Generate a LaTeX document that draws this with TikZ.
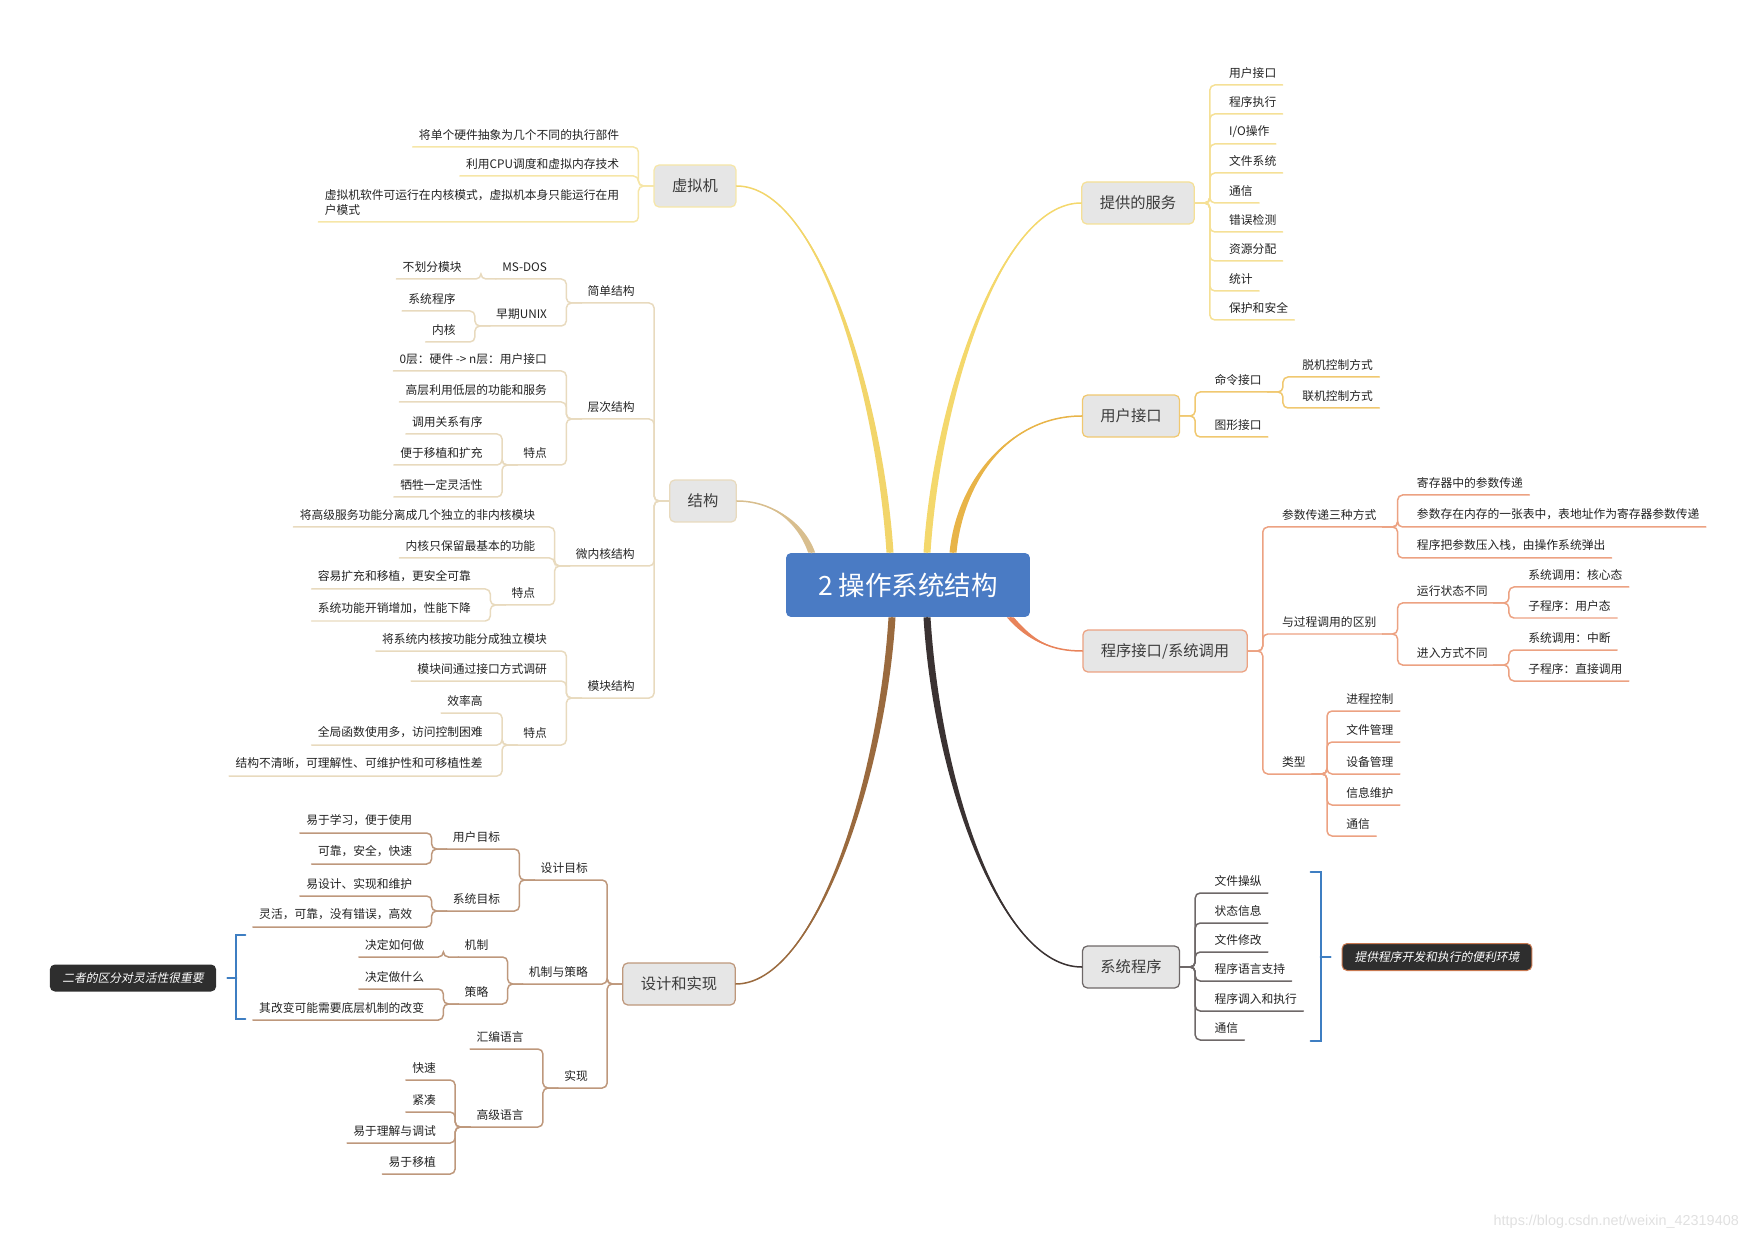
\documentclass[tikz,border=0pt]{standalone}
\usepackage{fontspec}
\setmainfont{Noto Sans CJK SC}
\newfontfamily\slantcjk[FakeSlant=0.2]{Noto Sans CJK SC}
\newfontfamily\urlfont{Liberation Sans}
\usepackage{tikz}
\usetikzlibrary{positioning,calc}

\definecolor{rootblue}{RGB}{74,123,196}
\definecolor{topicfill}{RGB}{230,230,230}
\definecolor{topictext}{RGB}{60,60,60}
\definecolor{leaftext}{RGB}{34,34,34}
\definecolor{vmc}{RGB}{242,213,106}
\definecolor{vml}{RGB}{246,230,168}
\definecolor{stc}{RGB}{216,190,142}
\definecolor{stl}{RGB}{232,218,190}
\definecolor{dsc}{RGB}{154,106,62}
\definecolor{dsl}{RGB}{190,152,124}
\definecolor{svc}{RGB}{244,216,108}
\definecolor{svl}{RGB}{245,224,150}
\definecolor{uic}{RGB}{232,180,72}
\definecolor{uil}{RGB}{240,200,112}
\definecolor{scc}{RGB}{232,131,90}
\definecolor{scl}{RGB}{236,162,130}
\definecolor{spc}{RGB}{58,50,50}
\definecolor{spl}{RGB}{110,104,104}
\definecolor{brk}{RGB}{62,126,194}
\definecolor{notefill}{RGB}{46,46,46}
\definecolor{notebd}{RGB}{200,120,80}

\newcommand{\trunk}[5]{%
  \fill[#1] ($#2+(-3.5,0)$) .. controls ($#3+(-3.5,0)$) and #4 .. #5
    .. controls #4 and ($#3+(3.5,0)$) .. ($#2+(3.5,0)$) -- cycle;
  \draw[#1, line width=0.03cm] #2 .. controls #3 and #4 .. #5;}

\begin{document}
\begin{tikzpicture}[x=0.02cm, y=-0.02cm, line cap=round,
  lkid/.style={anchor=south east, xshift=-0.56cm},
  rkid/.style={anchor=south west, xshift=0.56cm},
  lt/.style={line width=0.03cm, rounded corners=0.1cm, to path={-- ++(-15,0) |- (\tikztotarget)}},
  rt/.style={line width=0.03cm, rounded corners=0.1cm, to path={-- ++(15,0) |- (\tikztotarget)}}]
\tikzstyle{root}=[rectangle, rounded corners=0.1cm, fill=rootblue, text=white, minimum width=4.88cm, minimum height=1.28cm, font=\fontsize{15.1}{18}\selectfont]
\tikzstyle{topic}=[rectangle, rounded corners=0.1cm, fill=topicfill, text=topictext, line width=0.025cm, minimum height=0.84cm, inner xsep=0.36cm, font=\fontsize{8.7}{10}\selectfont]
\tikzstyle{leaf}=[text=leaftext, inner xsep=0.12cm, inner ysep=0.13cm, font=\fontsize{6.7}{8.5}\selectfont]
\tikzstyle{note}=[rectangle, rounded corners=0.1cm, fill=notefill, text=white, minimum height=0.54cm, inner xsep=0.25cm, font=\slantcjk\fontsize{6.7}{8}\selectfont]
\useasboundingbox (0,0) rectangle (1754,1239);

\node[root] (root) at (908,585) {2 操作系统结构};

\node[topic, draw=vml] (vm) at (695,186) {虚拟机};
\node[topic, draw=stl] (st) at (703,501) {结构};
\node[topic, draw=dsl] (ds) at (679,984) {设计和实现};
\node[topic, draw=svl] (sv) at (1138,203) {提供的服务};
\node[topic, draw=uil] (ui) at (1131,416) {用户接口};
\node[topic, draw=scl] (sc) at (1165,651) {程序接口/系统调用};
\node[topic, draw=spl] (sp) at (1131,967) {系统程序};

\node[leaf, lkid] (vm1) at (vm.west |- 0,147) {将单个硬件抽象为几个不同的执行部件};
\node[leaf, lkid] (vm2) at (vm.west |- 0,176) {利用CPU调度和虚拟内存技术};
\node[leaf, lkid, align=left] (vm3) at (vm.west |- 0,222) {虚拟机软件可运行在内核模式，虚拟机本身只能运行在用\\户模式};

\node[leaf, lkid] (s1) at (st.west |- 0,303) {简单结构};
\node[leaf, lkid] (s11) at (s1.south west |- 0,279) {MS-DOS};
\node[leaf, lkid] (s111) at (s11.south west |- 0,279) {不划分模块};
\node[leaf, lkid] (s12) at (s1.south west |- 0,326) {早期UNIX};
\node[leaf, lkid] (s121) at (s12.south west |- 0,311) {系统程序};
\node[leaf, lkid] (s122) at (s12.south west |- 0,342) {内核};
\node[leaf, lkid] (s2) at (st.west |- 0,419) {层次结构};
\node[leaf, lkid] (s21) at (s2.south west |- 0,371) {0层：硬件 -> n层：用户接口};
\node[leaf, lkid] (s22) at (s2.south west |- 0,402) {高层利用低层的功能和服务};
\node[leaf, lkid] (s23) at (s2.south west |- 0,465) {特点};
\node[leaf, lkid] (s231) at (s23.south west |- 0,434) {调用关系有序};
\node[leaf, lkid] (s232) at (s23.south west |- 0,465) {便于移植和扩充};
\node[leaf, lkid] (s233) at (s23.south west |- 0,497) {牺牲一定灵活性};
\node[leaf, lkid] (s3) at (st.west |- 0,566) {微内核结构};
\node[leaf, lkid] (s31) at (s3.south west |- 0,527) {将高级服务功能分离成几个独立的非内核模块};
\node[leaf, lkid] (s32) at (s3.south west |- 0,558) {内核只保留最基本的功能};
\node[leaf, lkid] (s33) at (s3.south west |- 0,605) {特点};
\node[leaf, lkid] (s331) at (s33.south west |- 0,589) {容易扩充和移植，更安全可靠};
\node[leaf, lkid] (s332) at (s33.south west |- 0,621) {系统功能开销增加，性能下降};
\node[leaf, lkid] (s4) at (st.west |- 0,698) {模块结构};
\node[leaf, lkid] (s41) at (s4.south west |- 0,651) {将系统内核按功能分成独立模块};
\node[leaf, lkid] (s42) at (s4.south west |- 0,681) {模块间通过接口方式调研};
\node[leaf, lkid] (s43) at (s4.south west |- 0,745) {特点};
\node[leaf, lkid] (s431) at (s43.south west |- 0,713) {效率高};
\node[leaf, lkid] (s432) at (s43.south west |- 0,745) {全局函数使用多，访问控制困难};
\node[leaf, lkid] (s433) at (s43.south west |- 0,776) {结构不清晰，可理解性、可维护性和可移植性差};

\node[leaf, lkid] (d1) at (ds.west |- 0,880) {设计目标};
\node[leaf, lkid] (d11) at (d1.south west |- 0,849) {用户目标};
\node[leaf, lkid] (d111) at (d11.south west |- 0,833) {易于学习，便于使用};
\node[leaf, lkid] (d112) at (d11.south west |- 0,864) {可靠，安全，快速};
\node[leaf, lkid] (d12) at (d1.south west |- 0,911) {系统目标};
\node[leaf, lkid] (d121) at (d12.south west |- 0,896) {易设计、实现和维护};
\node[leaf, lkid] (d122) at (d12.south west |- 0,927) {灵活，可靠，没有错误，高效};
\node[leaf, lkid] (d2) at (ds.west |- 0,984) {机制与策略};
\node[leaf, lkid] (d21) at (d2.south west |- 0,957) {机制};
\node[leaf, lkid] (d211) at (d21.south west |- 0,957) {决定如何做};
\node[leaf, lkid] (d22) at (d2.south west |- 0,1004) {策略};
\node[leaf, lkid] (d221) at (d22.south west |- 0,989) {决定做什么};
\node[leaf, lkid] (d222) at (d22.south west |- 0,1020) {其改变可能需要底层机制的改变};
\node[leaf, lkid] (d3) at (ds.west |- 0,1088) {实现};
\node[leaf, lkid] (d31) at (d3.south west |- 0,1049) {汇编语言};
\node[leaf, lkid] (d32) at (d3.south west |- 0,1127) {高级语言};
\node[leaf, lkid] (d321) at (d32.south west |- 0,1080) {快速};
\node[leaf, lkid] (d322) at (d32.south west |- 0,1112) {紧凑};
\node[leaf, lkid] (d323) at (d32.south west |- 0,1143) {易于理解与调试};
\node[leaf, lkid] (d324) at (d32.south west |- 0,1174) {易于移植};

\node[leaf, rkid] (sv1) at (sv.east |- 0,85) {用户接口};
\node[leaf, rkid] (sv2) at (sv.east |- 0,114) {程序执行};
\node[leaf, rkid] (sv3) at (sv.east |- 0,144) {I/O操作};
\node[leaf, rkid] (sv4) at (sv.east |- 0,173) {文件系统};
\node[leaf, rkid] (sv5) at (sv.east |- 0,203) {通信};
\node[leaf, rkid] (sv6) at (sv.east |- 0,232) {错误检测};
\node[leaf, rkid] (sv7) at (sv.east |- 0,261) {资源分配};
\node[leaf, rkid] (sv8) at (sv.east |- 0,291) {统计};
\node[leaf, rkid] (sv9) at (sv.east |- 0,320) {保护和安全};

\node[leaf, rkid] (u1) at (ui.east |- 0,392) {命令接口};
\node[leaf, rkid] (u11) at (u1.south east |- 0,377) {脱机控制方式};
\node[leaf, rkid] (u12) at (u1.south east |- 0,408) {联机控制方式};
\node[leaf, rkid] (u2) at (ui.east |- 0,437) {图形接口};

\node[leaf, rkid] (p1) at (sc.east |- 0,527) {参数传递三种方式};
\node[leaf, rkid] (p11) at (p1.south east |- 0,495) {寄存器中的参数传递};
\node[leaf, rkid] (p12) at (p1.south east |- 0,527) {参数存在内存的一张表中，表地址作为寄存器参数传递};
\node[leaf, rkid] (p13) at (p1.south east |- 0,558) {程序把参数压入栈，由操作系统弹出};
\node[leaf, rkid] (p2) at (sc.east |- 0,634) {与过程调用的区别};
\node[leaf, rkid] (p21) at (p2.south east |- 0,603) {运行状态不同};
\node[leaf, rkid] (p211) at (p21.south east |- 0,587) {系统调用：核心态};
\node[leaf, rkid] (p212) at (p21.south east |- 0,618) {子程序：用户态};
\node[leaf, rkid] (p22) at (p2.south east |- 0,665) {进入方式不同};
\node[leaf, rkid] (p221) at (p22.south east |- 0,650) {系统调用：中断};
\node[leaf, rkid] (p222) at (p22.south east |- 0,681) {子程序：直接调用};
\node[leaf, rkid] (p3) at (sc.east |- 0,774) {类型};
\node[leaf, rkid] (p31) at (p3.south east |- 0,711) {进程控制};
\node[leaf, rkid] (p32) at (p3.south east |- 0,742) {文件管理};
\node[leaf, rkid] (p33) at (p3.south east |- 0,774) {设备管理};
\node[leaf, rkid] (p34) at (p3.south east |- 0,805) {信息维护};
\node[leaf, rkid] (p35) at (p3.south east |- 0,836) {通信};

\node[leaf, rkid] (sp1) at (sp.east |- 0,893) {文件操纵};
\node[leaf, rkid] (sp2) at (sp.east |- 0,923) {状态信息};
\node[leaf, rkid] (sp3) at (sp.east |- 0,952) {文件修改};
\node[leaf, rkid] (sp4) at (sp.east |- 0,981) {程序语言支持};
\node[leaf, rkid] (sp5) at (sp.east |- 0,1011) {程序调入和执行};
\node[leaf, rkid] (sp6) at (sp.east |- 0,1040) {通信};

\node[note] (note1) at (133,978) {二者的区分对灵活性很重要};
\node[note, draw=notebd, line width=0.02cm] (note2) at (1437,957) {提供程序开发和执行的便利环境};
\node[anchor=east, text=black!12, font=\urlfont\fontsize{8.2}{10}\selectfont] (mark) at (1745,1222) {https://blog.csdn.net/weixin\_42319408};

\coordinate (rvm) at ($(root.north)+(-18,0)$);
\coordinate (rst) at ($(root.north west)+(26,0)$);
\coordinate (rsv) at ($(root.north)+(19,0)$);
\coordinate (rui) at ($(root.north)+(45,0)$);
\coordinate (rds) at ($(root.south)+(-16,0)$);
\coordinate (rsp) at ($(root.south)+(19,0)$);
\coordinate (rsc) at ($(root.south east)+(-20,0)$);
\trunk{vmc}{(rvm)}{(880,400)}{(820,186)}{(vm.east)}
\trunk{stc}{(rst)}{(800,520)}{(770,501)}{(st.east)}
\trunk{dsc}{(rds)}{(882,780)}{(815,984)}{(ds.east)}
\trunk{svc}{(rsv)}{(937,400)}{(1000,203)}{(sv.west)}
\trunk{uic}{(rui)}{(960,480)}{(1010,416)}{(ui.west)}
\trunk{scc}{(rsc)}{(1030,640)}{(1050,651)}{(sc.west)}
\trunk{spc}{(rsp)}{(937,780)}{(1000,967)}{(sp.west)}

\path[lt, vml]
(vm.west) edge (vm1.south west)
(vm.west) edge (vm2.south west)
(vm.west) edge (vm3.south west);

\path[lt, stl]
(st.west) edge (s1.south west)
(st.west) edge (s2.south west)
(st.west) edge (s3.south west)
(st.west) edge (s4.south west)
(s1.south west) edge (s11.south west)
(s1.south west) edge (s12.south west)
(s11.south west) edge (s111.south west)
(s12.south west) edge (s121.south west)
(s12.south west) edge (s122.south west)
(s2.south west) edge (s21.south west)
(s2.south west) edge (s22.south west)
(s2.south west) edge (s23.south west)
(s23.south west) edge (s231.south west)
(s23.south west) edge (s232.south west)
(s23.south west) edge (s233.south west)
(s3.south west) edge (s31.south west)
(s3.south west) edge (s32.south west)
(s3.south west) edge (s33.south west)
(s33.south west) edge (s331.south west)
(s33.south west) edge (s332.south west)
(s4.south west) edge (s41.south west)
(s4.south west) edge (s42.south west)
(s4.south west) edge (s43.south west)
(s43.south west) edge (s431.south west)
(s43.south west) edge (s432.south west)
(s43.south west) edge (s433.south west);

\path[lt, dsl]
(ds.west) edge (d1.south west)
(ds.west) edge (d2.south west)
(ds.west) edge (d3.south west)
(d1.south west) edge (d11.south west)
(d1.south west) edge (d12.south west)
(d11.south west) edge (d111.south west)
(d11.south west) edge (d112.south west)
(d12.south west) edge (d121.south west)
(d12.south west) edge (d122.south west)
(d2.south west) edge (d21.south west)
(d2.south west) edge (d22.south west)
(d21.south west) edge (d211.south west)
(d22.south west) edge (d221.south west)
(d22.south west) edge (d222.south west)
(d3.south west) edge (d31.south west)
(d3.south west) edge (d32.south west)
(d32.south west) edge (d321.south west)
(d32.south west) edge (d322.south west)
(d32.south west) edge (d323.south west)
(d32.south west) edge (d324.south west);

\path[rt, svl]
(sv.east) edge (sv1.south east)
(sv.east) edge (sv2.south east)
(sv.east) edge (sv3.south east)
(sv.east) edge (sv4.south east)
(sv.east) edge (sv5.south east)
(sv.east) edge (sv6.south east)
(sv.east) edge (sv7.south east)
(sv.east) edge (sv8.south east)
(sv.east) edge (sv9.south east);

\path[rt, uil]
(ui.east) edge (u1.south east)
(ui.east) edge (u2.south east)
(u1.south east) edge (u11.south east)
(u1.south east) edge (u12.south east);

\path[rt, scl]
(sc.east) edge (p1.south east)
(sc.east) edge (p2.south east)
(sc.east) edge (p3.south east)
(p1.south east) edge (p11.south east)
(p1.south east) edge (p12.south east)
(p1.south east) edge (p13.south east)
(p2.south east) edge (p21.south east)
(p2.south east) edge (p22.south east)
(p21.south east) edge (p211.south east)
(p21.south east) edge (p212.south east)
(p22.south east) edge (p221.south east)
(p22.south east) edge (p222.south east)
(p3.south east) edge (p31.south east)
(p3.south east) edge (p32.south east)
(p3.south east) edge (p33.south east)
(p3.south east) edge (p34.south east)
(p3.south east) edge (p35.south east);

\path[rt, spl]
(sp.east) edge (sp1.south east)
(sp.east) edge (sp2.south east)
(sp.east) edge (sp3.south east)
(sp.east) edge (sp4.south east)
(sp.east) edge (sp5.south east)
(sp.east) edge (sp6.south east);

\draw[brk, line width=0.04cm] ($(note1.east)+(29,-43)$) -- ++(-9,0) -- ++(0,84) -- ++(9,0);
\draw[brk, line width=0.04cm] ($(note1.east)+(11,0)$) -- ++(9,0);
\draw[brk, line width=0.04cm] ($(note2.west)+(-31,-85)$) -- ++(10,0) -- ++(0,169) -- ++(-10,0);
\draw[brk, line width=0.04cm] ($(note2.west)+(-21,0)$) -- ++(10,0);
\end{tikzpicture}
\end{document}
